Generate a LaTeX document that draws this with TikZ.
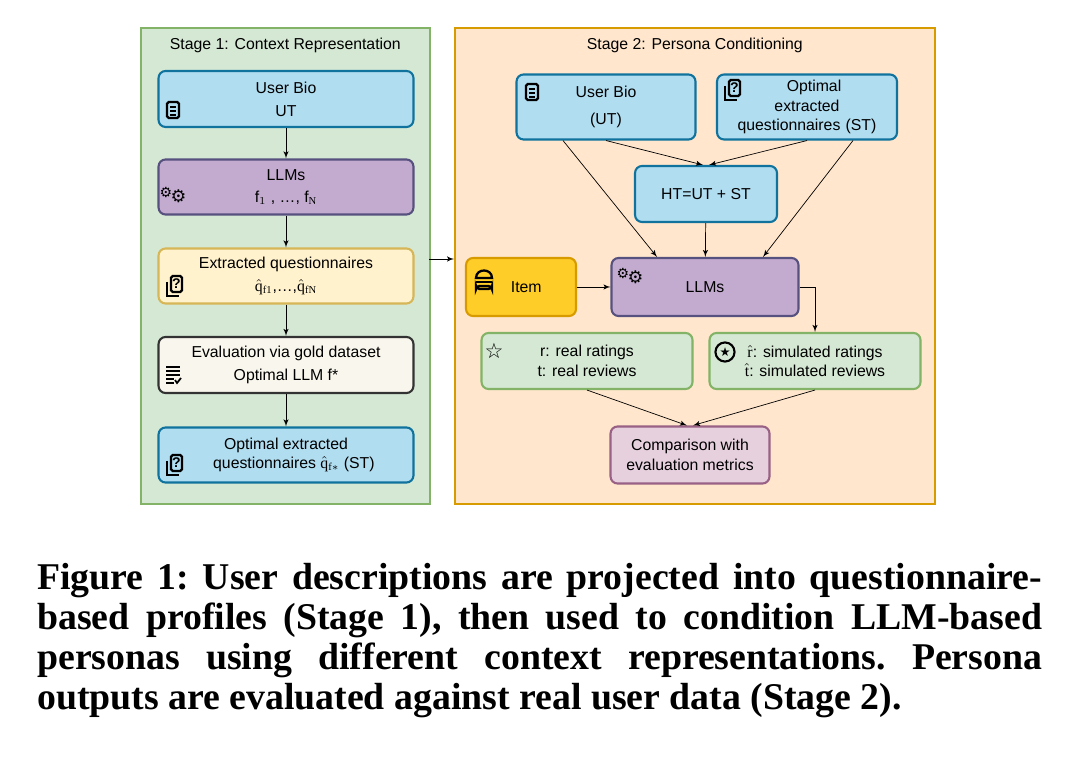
\documentclass[tikz,border=0pt]{standalone}
\usepackage{fontspec}
\setmainfont{Liberation Serif}
\setsansfont{Liberation Sans}
\newfontfamily\symfont{DejaVu Sans}
\usetikzlibrary{positioning,arrows,calc}
\definecolor{stgGreen}{HTML}{D5E8D4}
\definecolor{stgGreenD}{HTML}{82B366}
\definecolor{stgOrange}{HTML}{FFE6CC}
\definecolor{stgOrangeD}{HTML}{D79B00}
\definecolor{bioBlue}{HTML}{B1DDF0}
\definecolor{bioBlueD}{HTML}{10739E}
\definecolor{llmPurple}{HTML}{C3ABD0}
\definecolor{llmPurpleD}{HTML}{56517E}
\definecolor{exYellow}{HTML}{FFF2CC}
\definecolor{exYellowD}{HTML}{D6B656}
\definecolor{evalCream}{HTML}{F9F7ED}
\definecolor{itemGold}{HTML}{FFCD28}
\definecolor{cmpPink}{HTML}{E6D0DE}
\definecolor{cmpPinkD}{HTML}{996185}

% small icons
\tikzset{
  pics/docicon/.style={code={
    \draw [line width=1.3pt, rounded corners=1pt] (-6,-8) rectangle (6,8);
    \foreach \yy in {-3,1,5} \draw [line width=1.3pt] (-3,\yy) -- (3,\yy);
  }},
  pics/quesicon/.style={code={
    \draw [line width=1.3pt] (-7,-4) -- (-7,10) -- (5,10);
    \draw [line width=1.3pt, rounded corners=1pt] (-3,-10) rectangle (8,6);
    \node [font=\sffamily\footnotesize\bfseries, inner sep=0pt] at (2.5,-2) {?};
  }},
  pics/cogicon/.style={code={
    \node [inner sep=0pt, font=\symfont] at (0,0) {\raisebox{3pt}{\footnotesize ⚙}\kern-1pt{\normalsize ⚙}};
  }},
  pics/tasksicon/.style={code={
    \foreach \yy in {-8,-4,0} \draw [line width=1.3pt] (-7,\yy) -- (7,\yy);
    \draw [line width=1.3pt] (-7,4) -- (1,4);
    \draw [line width=1.3pt] (-7,8) -- (1,8);
    \draw [line width=1pt] (2,5) -- (4,8) -- (8,3);
  }},
  pics/burgericon/.style={code={
    \draw [line width=1.3pt] (-8,-1) .. controls (-8,-11) and (8,-11) .. (8,-1) -- cycle;
    \draw [line width=1.3pt] (-8,3) -- (8,3);
    \draw [line width=1.3pt, rounded corners=2pt] (-8,7) rectangle (8,10);
  }}
}

\begin{document}
\begin{tikzpicture}[
      x=0.02cm, y=-0.02cm,
      >=latex',
      font=\sffamily\small
    ]

    \tikzstyle{stage} = [rectangle, line width=1pt, anchor=north west, inner sep=0pt]
    \tikzstyle{box} = [rectangle, rounded corners=4pt, line width=1.2pt, align=center, inner sep=1pt]
    \tikzstyle{bio} = [box, fill=bioBlue, draw=bioBlueD]
    \tikzstyle{llm} = [box, fill=llmPurple, draw=llmPurpleD]
    \tikzstyle{res} = [box, fill=stgGreen, draw=stgGreenD]
    \tikzstyle{arrow} = [->, thin]

    \useasboundingbox (0,0) rectangle (1084,759);

    % stages
    \node [stage, fill=stgGreen, draw=stgGreenD, minimum width=5.78cm, minimum height=9.52cm] (stageA) at (140,27) {};
    \node [below=3pt of stageA.north] {Stage 1: Context Representation};
    \node [stage, fill=stgOrange, draw=stgOrangeD, minimum width=9.6cm, minimum height=9.52cm] (stageB) at (454,27) {};
    \node [below=3pt of stageB.north] {Stage 2: Persona Conditioning};

    % stage 1
    \node [bio, minimum width=5.1cm, minimum height=1.12cm] (bioA) at (286,99) {User Bio\\[2pt] UT};
    \node [llm, minimum width=5.1cm, minimum height=1.1cm] (llmA) at (286,187) {LLMs\\[2pt] f$_1$ , \dots, f$_\mathrm{N}$};
    \node [box, fill=exYellow, draw=exYellowD, minimum width=5.1cm, minimum height=1.1cm] (extr) at (286,276) {Extracted questionnaires\\[2pt] $\hat{\mathrm{q}}_{\mathrm{f1}}$,\dots,$\hat{\mathrm{q}}_{\mathrm{fN}}$};
    \node [box, fill=evalCream, draw=black!80, minimum width=5.1cm, minimum height=1.12cm] (eval) at (286,365) {Evaluation via gold dataset\\[2pt] Optimal LLM f*};
    \node [bio, minimum width=5.1cm, minimum height=1.1cm] (optA) at (286,455) {Optimal extracted\\ \quad questionnaires $\hat{\mathrm{q}}_{\mathrm{f}*}$ (ST)};

    \pic at (173,110) {docicon};
    \pic at (173,195) {cogicon};
    \pic at (174,286) {quesicon};
    \pic at (173,375) {tasksicon};
    \pic at (174,465) {quesicon};

    \draw [arrow] (bioA) -- (llmA);
    \draw [arrow] (llmA) -- (extr);
    \draw [arrow] (extr) -- (eval);
    \draw [arrow] (eval) -- (optA);
    \coordinate (out) at (429,259);
    \draw [arrow] (out) -- (stageB.west |- out);

    % stage 2
    \node [bio, minimum width=3.58cm, minimum height=1.3cm] (bioB) at (606,107) {User Bio\\[4pt] (UT)};
    \node [bio, minimum width=3.6cm, minimum height=1.3cm, text width=3cm] (optB) at (807,107) {\hspace*{8pt}Optimal\\ extracted\\ questionnaires (ST)};
    \node [bio, minimum width=2.84cm, minimum height=1.12cm] (ht) at (706,194) {HT=UT + ST};
    \node [box, fill=itemGold, draw=stgOrangeD, minimum width=2.2cm, minimum height=1.16cm] (item) at (521,287) {\hspace*{6pt}Item};
    \node [llm, minimum width=3.74cm, minimum height=1.16cm] (llmB) at (705,287) {LLMs};
    \node [res, minimum width=4.22cm, minimum height=1.12cm] (real) at (587,361) {r: real ratings\\ t: real reviews};
    \node [res, minimum width=4.22cm, minimum height=1.12cm] (sim) at (815,361) {$\hat{\mathrm{r}}$: simulated ratings\\ $\hat{\mathrm{t}}$: simulated reviews};
    \node [box, fill=cmpPink, draw=cmpPinkD, minimum width=3.18cm, minimum height=1.14cm] (cmp) at (690,455) {Comparison with\\ evaluation metrics};

    \pic at (532,92) {docicon};
    \pic at (732,90) {quesicon};
    \pic at (484,279) {burgericon};
    \pic at (630,276) {cogicon};
    \node [font=\symfont\large, inner sep=0pt] at (494,351) {☆};
    \node [draw, circle, line width=1.2pt, inner sep=1pt, font=\symfont\scriptsize] at (725,352) {★};

    \draw [arrow] ($(bioB.south)+(-43,0)$) -- ($(llmB.north)+(-48,0)$);
    \draw [arrow] (bioB.south) -- ($(ht.north)+(-3,0)$);
    \draw [arrow] (optB.south) -- ($(ht.north)+(3,0)$);
    \draw [arrow] ($(optB.south)+(46,0)$) -- ($(llmB.north)+(58,0)$);
    \draw [arrow] (ht) -- (llmB);
    \draw [arrow] (item) -- (llmB);
    \draw [arrow] (llmB.east) -| (sim.north);
    \draw [arrow] (real.south) -- ($(cmp.north)+(-3,0)$);
    \draw [arrow] (sim.south) -- ($(cmp.north)+(3,0)$);

    % caption
    \node [anchor=north west, text width=20.1cm, align=justify, inner sep=0pt, font=\rmfamily\bfseries\fontsize{21.5}{22.8}\selectfont\frenchspacing] (caption) at (37,563)
      {Figure 1: User descriptions are projected into questionnaire-\linebreak based profiles (Stage 1), then used to condition LLM-based\linebreak personas using different context representations. Persona\linebreak outputs are evaluated against real user data (Stage 2).};
\end{tikzpicture}
\end{document}
